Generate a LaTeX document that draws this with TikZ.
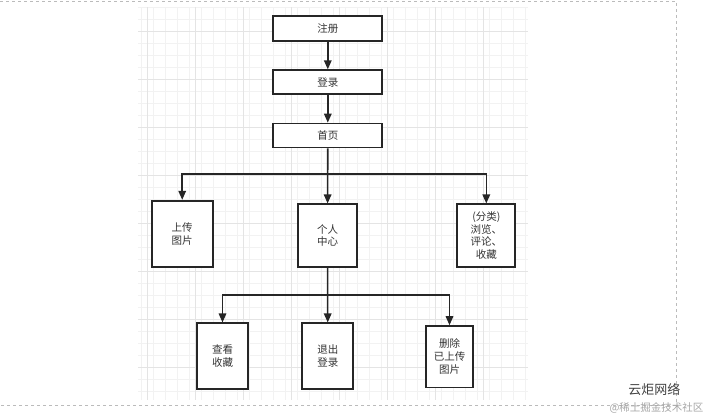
\documentclass[tikz,border=0pt]{standalone}
\usepackage{fontspec}
\usepackage{tikz}
\usetikzlibrary{arrows.meta, positioning, calc}
\newfontfamily\cjk{Noto Sans CJK SC}
\definecolor{flowline}{HTML}{262626}
\definecolor{flowtext}{HTML}{333333}
\definecolor{gridminor}{HTML}{F2F2F2}
\definecolor{gridmajor}{HTML}{E4E4E4}
\definecolor{pageedge}{HTML}{BBBBBB}

\begin{document}
\begin{tikzpicture}[
    x=1pt, y=-1pt,
    box/.style={draw=flowline,line width=1.7pt,fill=white,inner sep=0pt,align=center,
      text=flowtext,font=\cjk\fontsize{10.5}{12.8}\selectfont},
    arr/.style={-{Triangle[length=9pt,width=7.5pt]},line width=1.6pt,flowline},
  ]
    \useasboundingbox (0,0) rectangle (707,420);
    % page background with grid
    \foreach \gx in {141.3,153.3,...,525.4}
      \draw[gridminor,line width=0.6pt] (\gx,7) -- (\gx,400);
    \foreach \gy in {7.3,19.3,...,397.4}
      \draw[gridminor,line width=0.6pt] (138,\gy) -- (528,\gy);
    \foreach \gx in {147.3,195.3,...,520}
      \draw[gridmajor,line width=0.7pt] (\gx,7) -- (\gx,400);
    \foreach \gy in {31.3,79.3,...,390}
      \draw[gridmajor,line width=0.7pt] (138,\gy) -- (528,\gy);
    \draw[pageedge,dashed,line width=0.6pt] (0,1) -- (676,1) -- (676,405) -- (0,405);

    \node[box, minimum width=109pt, minimum height=25pt] (reg) at (327.8,28.2) {注册};
    \node[box, minimum width=109pt, minimum height=24pt] (login) at (327.8,82.2) {登录};
    \node[box, minimum width=109pt, minimum height=24pt] (home) at (327.8,135.5) {首页};

    \node[box, minimum width=61pt, minimum height=66pt] (upload) at (182.2,233.7) {上传\\图片};
    \node[box, minimum width=59.6pt, minimum height=62.4pt] (mine) at (327.5,235.5) {个人\\中心};
    \node[box, minimum width=58pt, minimum height=62.4pt] (browse) at (486.3,235.5) {(分类)\\浏览、\\评论、\\收藏};

    \node[box, minimum width=51.6pt, minimum height=66pt] (fav) at (222.5,356.3) {查看\\收藏};
    \node[box, minimum width=51pt, minimum height=66pt] (logout) at (327.8,356.3) {退出\\登录};
    \node[box, minimum width=47.6pt, minimum height=61.3pt] (delpic) at (449.5,356.7) {删除\\已上传\\图片};

    \coordinate (split1) at (327.8,174);
    \coordinate (split2) at (327.5,295);

    \draw[arr] (reg) -- (login);
    \draw[arr] (login) -- (home);
    \draw[arr] (home) -- (mine);
    \draw[arr] (split1) -| (upload);
    \draw[arr] (split1) -| (browse);
    \draw[arr] (mine) -- (logout);
    \draw[arr] (split2) -| (fav);
    \draw[arr] (split2) -| (delpic);

    % watermark
    \node[font=\cjk\fontsize{13}{15}\selectfont, text=black!75, anchor=east] (wm) at (684,389) {云炬网络};
    \node[font=\cjk\fontsize{10.5}{12}\selectfont, text=black!35, anchor=east] (wmsrc) at (707,408) {@稀土掘金技术社区};
  \end{tikzpicture}
\end{document}
